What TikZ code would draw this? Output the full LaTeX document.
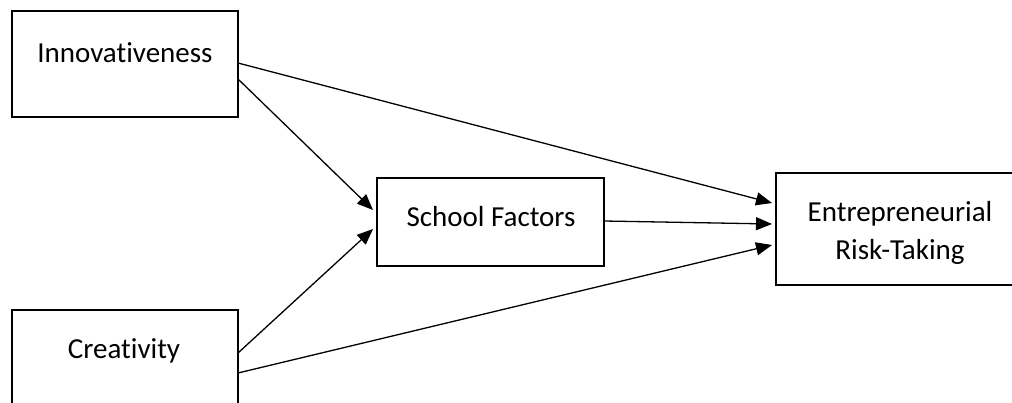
\documentclass[tikz,border=0pt]{standalone}
\usepackage{fontspec}
\setmainfont[Ligatures={NoCommon}]{Carlito}
\usetikzlibrary{arrows.meta}
\begin{document}
\begin{tikzpicture}[x=1pt,y=-1pt,
  box/.style={draw, line width=2.6pt, inner sep=0pt, outer sep=0pt, anchor=north west},
  lbl/.style={inner sep=0pt, anchor=base, font=\fontsize{29}{38}\selectfont, align=center},
  arr/.style={line width=1.3pt, -{Triangle[length=16pt,width=13pt]}}]
\useasboundingbox (0,0) rectangle (1012,403);
\clip (0,0) rectangle (1012,403);
\node[box, minimum width=226pt, minimum height=106pt] (inn) at (12,11) {};
\node[box, minimum width=226pt, minimum height=106pt] (cre) at (12,310) {};
\node[box, minimum width=227pt, minimum height=88pt] (sch) at (377,178) {};
\node[box, minimum width=248pt, minimum height=112pt] (ent) at (776,173) {};
\node[lbl] (tinn) at (125,63) {Innovativeness};
\node[lbl] (tcre) at (124,359) {Creativity};
\node[lbl] (tsch) at (491,227) {School Factors};
\node[lbl] (tent) at (900,260) {Entrepreneurial\\Risk-Taking};
% connector end points
\coordinate (i1) at ([yshift=1pt]inn.east);
\coordinate (i2) at ([yshift=-15pt]inn.east);
\coordinate (c1) at ([yshift=-43pt]cre.north east);
\coordinate (c2) at ([yshift=-63pt]cre.north east);
\coordinate (s1) at ([xshift=-4pt,yshift=12pt]sch.west);
\coordinate (s2) at ([xshift=-4pt,yshift=-7pt]sch.west);
\coordinate (s3) at ([yshift=1pt]sch.east);
\coordinate (e1) at ([xshift=-4pt,yshift=26pt]ent.west);
\coordinate (e2) at ([xshift=-4pt,yshift=5pt]ent.west);
\coordinate (e3) at ([xshift=-4pt,yshift=-16pt]ent.west);
\draw[arr] (i1) -- (e1);
\draw[arr] (i2) -- (s1);
\draw[arr] (c1) -- (s2);
\draw[arr] (c2) -- (e3);
\draw[arr] (s3) -- (e2);
\end{tikzpicture}
\end{document}
